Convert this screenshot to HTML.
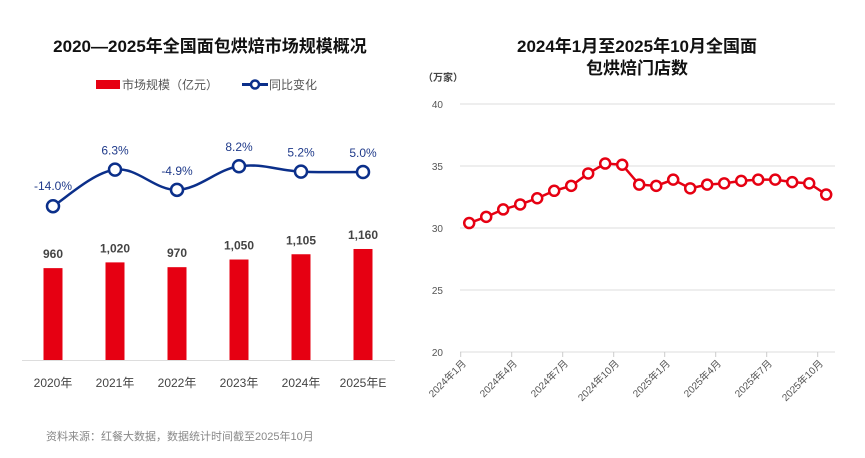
<!DOCTYPE html>
<html><head><meta charset="utf-8"><style>
body{margin:0;background:#fff;font-family:"Liberation Sans","Noto Sans CJK SC",sans-serif;}
svg text{font-family:"Liberation Sans","Noto Sans CJK SC",sans-serif;}
</style></head><body>
<svg id="c" width="865" height="453" viewBox="0 0 865 453">
<text x="210" y="52" text-anchor="middle" font-size="17" font-weight="bold" fill="#111">2020—2025年全国面包烘焙市场规模概况</text>
<g>
<rect x="96" y="80" width="24" height="9" fill="#e60012"/>
<text x="122" y="89" font-size="12" fill="#555">市场规模（亿元）</text>
<line x1="242" y1="84.5" x2="268" y2="84.5" stroke="#0b2f8a" stroke-width="3"/>
<circle cx="255" cy="84.5" r="4" fill="#fff" stroke="#0b2f8a" stroke-width="2.5"/>
<text x="269" y="89" font-size="12" fill="#555">同比变化</text>
</g>
<line x1="22" y1="360.5" x2="395" y2="360.5" stroke="#ddd" stroke-width="1"/>
<g id="left"></g>
<text x="637" y="52" text-anchor="middle" font-size="17" font-weight="bold" fill="#111">2024年1月至2025年10月全国面</text>
<text x="637" y="74" text-anchor="middle" font-size="17" font-weight="bold" fill="#111">包烘焙门店数</text>
<text x="423" y="81" font-size="10" font-weight="bold" fill="#444">（万家）</text>
<g id="right"></g>
<text x="46" y="440" font-size="11" fill="#888">资料来源：红餐大数据，数据统计时间截至2025年10月</text>
</svg>
<script>
const years=['2020年','2021年','2022年','2023年','2024年','2025年E'];
const marketSize=[960,1020,970,1050,1105,1160];
const sizeLabels=['960','1,020','970','1,050','1,105','1,160'];
const yoy=[-14.0,6.3,-4.9,8.2,5.2,5.0];
const yoyLabels=['-14.0%','6.3%','-4.9%','8.2%','5.2%','5.0%'];
const months=['2024年1月','2024年2月','2024年3月','2024年4月','2024年5月','2024年6月','2024年7月','2024年8月','2024年9月','2024年10月','2024年11月','2024年12月','2025年1月','2025年2月','2025年3月','2025年4月','2025年5月','2025年6月','2025年7月','2025年8月','2025年9月','2025年10月'];
const stores=[30.4,30.9,31.5,31.9,32.4,33.0,33.4,34.4,35.2,35.1,33.5,33.4,33.9,33.2,33.5,33.6,33.8,33.9,33.9,33.7,33.6,32.7];
const yTicks=[20,25,30,35,40];
const NS='http://www.w3.org/2000/svg';
function mk(t,a,p){const e=document.createElementNS(NS,t);for(const k in a)e.setAttribute(k,a[k]);p.appendChild(e);return e;}
const L=document.getElementById('left');
const lx=i=>53+i*62;
const by=v=>360-v*0.0957;
const ly=v=>181-v*1.8;
years.forEach((y,i)=>{
 const b=mk('rect',{x:lx(i)-9.5,y:by(marketSize[i]),width:19,height:360-by(marketSize[i]),fill:'#e60012'},L);
 
 
 const t=mk('text',{x:lx(i),y:by(marketSize[i])-10,'text-anchor':'middle','font-size':12,'font-weight':'bold',fill:'#444'},L);t.textContent=sizeLabels[i];
 
 
 const xl=mk('text',{x:lx(i),y:387,'text-anchor':'middle','font-size':12,fill:'#444'},L);xl.textContent=y;
 
 
});
const pts=yoy.map((v,i)=>[lx(i),ly(v)]);
let d='M'+pts[0][0]+','+pts[0][1];
for(let i=0;i<pts.length-1;i++){const p0=pts[Math.max(0,i-1)],p1=pts[i],p2=pts[i+1],p3=pts[Math.min(pts.length-1,i+2)];const k=0.18;
 d+=` C${p1[0]+(p2[0]-p0[0])*k},${p1[1]+(p2[1]-p0[1])*k} ${p2[0]-(p3[0]-p1[0])*k},${p2[1]-(p3[1]-p1[1])*k} ${p2[0]},${p2[1]}`;}
const yl=mk('path',{d:d,fill:'none',stroke:'#0b2f8a','stroke-width':2.5},L);


pts.forEach((p,i)=>{
 const c=mk('circle',{cx:p[0],cy:p[1],r:6,fill:'#fff',stroke:'#0b2f8a','stroke-width':2.5},L);
 
 
 const t=mk('text',{x:p[0],y:p[1]-(i==0?16:15),'text-anchor':'middle','font-size':12,fill:'#1f3a8a'},L);t.textContent=yoyLabels[i];
 
 
});
const R=document.getElementById('right');
const x0=460.7,bw=17;
const rx=i=>x0+bw*(i+0.5);
const ry=v=>352-(v-20)*12.4;
yTicks.forEach(v=>{
 const g=mk('line',{x1:460,x2:835,y1:ry(v),y2:ry(v),stroke:'#ddd','stroke-width':1},R);
 
 
 const t=mk('text',{x:443,y:ry(v)+4,'text-anchor':'end','font-size':10,fill:'#555'},R);t.textContent=v;
 
 
});
months.forEach((m,i)=>{
 if(i%3===0){
  const tk=mk('line',{x1:x0+bw*i,x2:x0+bw*i,y1:352,y2:357,stroke:'#ccc'},R);
  
  
 }
 if(i%3===0||i===21){
  const lxp=x0+bw*i+6;
  const t=mk('text',{x:lxp,y:364,'text-anchor':'end','font-size':10,fill:'#555',transform:`rotate(-45 ${lxp} 364)`},R);t.textContent=m;
  
  
 }
});
const rp=stores.map((v,i)=>rx(i)+','+ry(v)).join(' ');
const rl=mk('polyline',{points:rp,fill:'none',stroke:'#e60012','stroke-width':2.5},R);


stores.forEach((v,i)=>{
 const c=mk('circle',{cx:rx(i),cy:ry(v),r:5,fill:'#fff',stroke:'#e60012','stroke-width':2.5},R);
 
 
});
</script>
</body></html>
